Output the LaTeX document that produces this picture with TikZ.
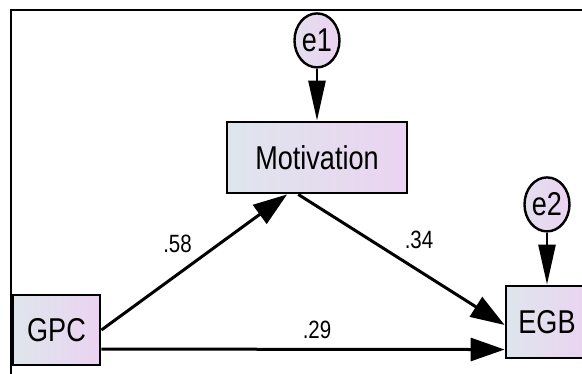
\documentclass[tikz,border=0pt]{standalone}
\usepackage{fontspec}
\setmainfont{Liberation Sans}[FakeStretch=0.82]
\usepackage{xcolor}
\usepackage{tikz}
\usetikzlibrary{shapes,arrows.meta,positioning}

\definecolor{boxleft}{HTML}{DEE6EC}
\definecolor{boxright}{HTML}{EBD3F1}

\begin{document}
\begin{tikzpicture}[
    x=1pt, y=-1pt,
    observed/.style={rectangle, draw, line width=2.8pt, left color=boxleft, right color=boxright, inner sep=0pt, font=\fontsize{33}{36}\selectfont},
    errvar/.style={ellipse, draw, line width=2.4pt, left color=boxleft!60!boxright, right color=boxright, minimum width=45pt, minimum height=54pt, inner sep=0pt, font=\fontsize{33}{36}\selectfont},
    path/.style={line width=3pt, -{Triangle[length=34pt, width=23pt]}},
    errpath/.style={line width=2.6pt, -{Triangle[length=40pt, width=17pt]}},
    coef/.style={font=\fontsize{25}{28}\selectfont, inner sep=0pt},
    frame/.style={line width=2pt}
]

\useasboundingbox (0,0) rectangle (582,373);
\clip (0,0) rectangle (582,373);
\draw[frame] (11,10) rectangle (600,390);

% Observed variables
\node[observed, minimum width=87pt, minimum height=70pt] (gpc) at (56.5,330) {GPC};
\node[observed, minimum width=180pt, minimum height=71pt] (mot) at (317,157.5) {Motivation};
\node[observed, minimum width=82pt, minimum height=72pt] (egb) at (547,322) {EGB};

% Error terms
\node[errvar, above=52pt of mot] (e1) {e1};
\node[errvar, above=52pt of egb] (e2) {e2};

% Paths
\draw[errpath] (e1) -- (mot);
\draw[errpath] (e2) -- (egb);

\draw[path] (gpc.east) -- (mot.231);
\draw[path] (mot.243) -- (egb.184);
\draw[path] (gpc.-23.6) -- (egb.213.4);

% Coefficients
\node[coef] (c1) at (177.5,244) {.58};
\node[coef] (c2) at (419,240) {.34};
\node[coef] (c3) at (317,330) {.29};

\end{tikzpicture}
\end{document}
